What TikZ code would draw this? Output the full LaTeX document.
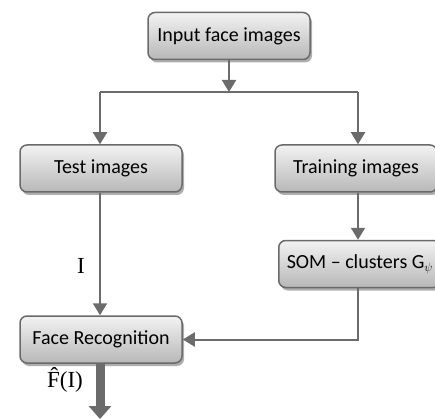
\documentclass[tikz,border=0pt]{standalone}
\usepackage{fontspec}
\setmainfont{Carlito}
\newfontfamily\serifm{Liberation Serif}
\usetikzlibrary{arrows.meta,shadows}
\definecolor{lc}{HTML}{6B6B6B}
\definecolor{bc}{HTML}{6A6A6A}
\tikzset{
  box/.style={draw=bc, line width=1.5pt, rounded corners=7pt, top color=white!95!black, bottom color=white!72!black,
    minimum height=47pt, inner sep=0pt, font=\fontsize{20pt}{24pt}\selectfont,
    drop shadow={shadow xshift=2pt, shadow yshift=-3pt, opacity=0.45, fill=black!70}},
  conn/.style={draw=lc, line width=2pt, -{Triangle[width=14pt,length=12pt]}},
  plain/.style={draw=lc, line width=2pt},
  lab/.style={font=\serifm\fontsize{23pt}{26pt}\selectfont}
}
\begin{document}
\begin{tikzpicture}[x=1pt,y=-1pt]
\useasboundingbox (0,0) rectangle (435,419);
\clip (0,0) rectangle (435,419);
\node[box, minimum width=162pt] (in) at (229,36) {Input face images};
\node[box, minimum width=162pt] (test) at (101,168.5) {Test images};
\node[box, minimum width=162pt] (train) at (356,168.5) {Training images};
\node[box, inner xsep=8pt, anchor=west] (som) at (278,264) {SOM -- clusters G\raisebox{-0.35ex}{\fontsize{12pt}{12pt}\selectfont$\psi$}};
\node[box, minimum width=162pt] (fr) at (101,339.5) {Face Recognition};
\coordinate (split) at (229,92);
\coordinate (sl) at (100,92);
\coordinate (sr) at (358,92);
\coordinate (somb) at (358,288);
\coordinate (out) at (100,419);
\draw[conn] (in.south) -- (split);
\draw[plain] (sl) -- (sr);
\draw[conn] (sl) -- (sl |- test.north);
\draw[conn] (sr) -- (sr |- train.north);
\draw[conn] (test.south -| sl) -- node[lab, left=11pt, pos=0.6] {I} (sl |- fr.north);
\draw[conn] (train.south -| sr) -- (sr |- som.north);
\draw[conn] (somb) |- (fr.east);
\draw[draw=lc, line width=9pt, -{Triangle[width=22pt,length=13pt]}] (fr.south -| sl) -- (out);
\node[lab] (fhat) at (65,380) {\^F(I)};
\end{tikzpicture}
\end{document}
